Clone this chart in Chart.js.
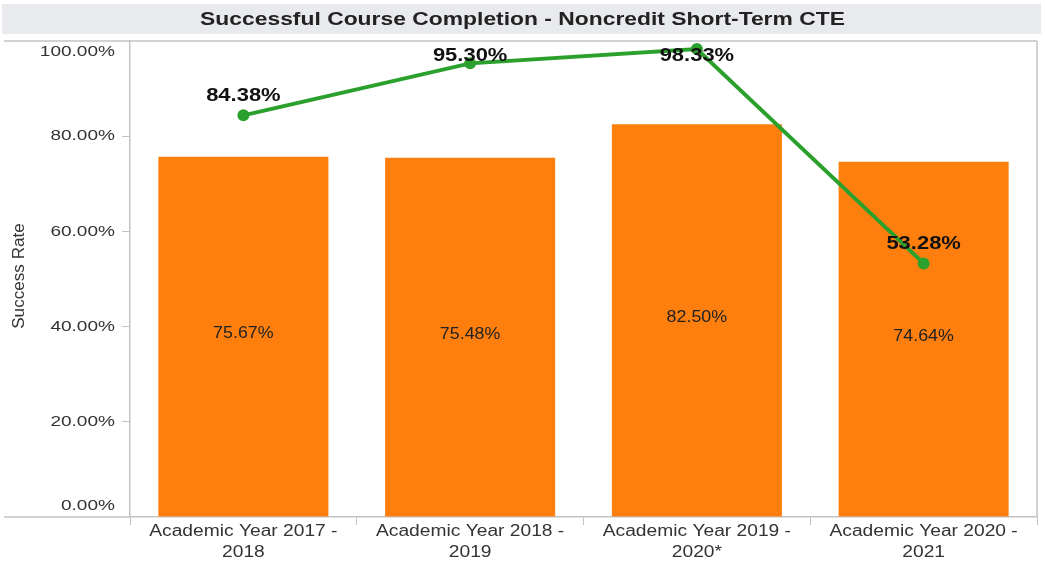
<!DOCTYPE html>
<html>
<head>
<meta charset="utf-8">
<script src="https://cdn.jsdelivr.net/npm/chart.js@4/dist/chart.umd.min.js"></script>
<style>
  html, body { margin: 0; padding: 0; background: #fff; }
  #wrap { width: 1045px; height: 566px; position: relative; }
</style>
</head>
<body>
<div id="wrap"><canvas id="chart"></canvas></div>
<script>
const chartTitle = "Successful Course Completion - Noncredit Short-Term CTE"
const axisTitle = "Success Rate"
const categories = [
  ["Academic Year 2017 -", "2018"],
  ["Academic Year 2018 -", "2019"],
  ["Academic Year 2019 -", "2020*"],
  ["Academic Year 2020 -", "2021"]
]
const barRates = [75.67, 75.48, 82.50, 74.64]
const lineRates = [84.38, 95.30, 98.33, 53.28]
const yTicks = [0, 20, 40, 60, 80, 100]

const FONT = '"Liberation Sans", Arial, sans-serif'
const AXIS_GRAY = "#c3c3c3"

// text drawn a little wider than Arial, like the original renderer
function drawText(ctx, str, x, y, font, color, align, sx) {
  ctx.save()
  ctx.font = font
  ctx.fillStyle = color
  ctx.textAlign = align
  ctx.textBaseline = "middle"
  ctx.translate(x, y)
  ctx.scale(sx, 1)
  ctx.fillText(str, 0, 0)
  ctx.restore()
}

const decorations = {
  id: "decorations",
  beforeDraw(chart) {
    const ctx = chart.ctx
    const { top, bottom, right } = chart.chartArea
    // title band
    ctx.save()
    ctx.fillStyle = "#e9eaed"
    ctx.fillRect(2, 4, chart.width - 6, 30)
    ctx.strokeStyle = AXIS_GRAY
    ctx.lineWidth = 1.5
    ctx.beginPath()
    ctx.moveTo(4, top); ctx.lineTo(right, top)
    ctx.moveTo(4, bottom); ctx.lineTo(chart.chartArea.left, bottom)
    ctx.moveTo(right, top); ctx.lineTo(right, bottom)
    ctx.stroke()
    ctx.restore()
    drawText(ctx, chartTitle, chart.width / 2, 20, "bold 18px " + FONT, "#222", "center", 1.27)
  },
  afterDraw(chart) {
    const ctx = chart.ctx
    const { top, bottom, left } = chart.chartArea
    const y = chart.scales.y
    const x = chart.scales.x

    yTicks.forEach(v => {
      let py = y.getPixelForValue(v)
      py = Math.min(Math.max(py, top + 11), bottom - 11)
      drawText(ctx, v.toFixed(2) + "%", left - 15, py, "15px " + FONT, "#333", "right", 1.27)
    })

    categories.forEach((lines, i) => {
      const px = x.getPixelForValue(i)
      lines.forEach((ln, j) => {
        drawText(ctx, ln, px, bottom + 15 + j * 21, "16px " + FONT, "#333", "center", 1.2)
      })
    })

    ctx.save()
    ctx.translate(20, 276)
    ctx.rotate(-Math.PI / 2)
    drawText(ctx, axisTitle, 0, 0, "16px " + FONT, "#333", "center", 1.07)
    ctx.restore()

    chart.getDatasetMeta(0).data.forEach((bar, i) => {
      const c = bar.getCenterPoint()
      drawText(ctx, barRates[i].toFixed(2) + "%", c.x, c.y - 3, "17px " + FONT, "#222", "center", 1.05)
    })

    chart.getDatasetMeta(1).data.forEach((pt, i) => {
      const ly = Math.max(pt.y - 19, top + 15)
      drawText(ctx, lineRates[i].toFixed(2) + "%", pt.x, ly, "bold 18px " + FONT, "#111", "center", 1.22)
    })
  }
}

new Chart(document.getElementById("chart"), {
  type: "bar",
  data: {
    labels: categories,
    datasets: [
      {
        type: "bar",
        data: barRates,
        backgroundColor: "#fe7f0e",
        categoryPercentage: 0.75,
        barPercentage: 1.0,
        order: 2
      },
      {
        type: "line",
        data: lineRates,
        borderColor: "#2ca02c",
        backgroundColor: "#2ca02c",
        borderWidth: 4,
        pointRadius: 4,
        pointHoverRadius: 4,
        tension: 0,
        clip: false,
        order: 1
      }
    ]
  },
  options: {
    responsive: true,
    maintainAspectRatio: false,
    animation: false,
    layout: { padding: { top: 41, left: 0, right: 2, bottom: 0 } },
    plugins: {
      legend: { display: false },
      tooltip: { enabled: false },
      title: { display: false }
    },
    scales: {
      x: {
        offset: true,
        ticks: { display: false },
        grid: { offset: true, drawOnChartArea: false, tickLength: 8, color: AXIS_GRAY },
        border: { color: AXIS_GRAY, width: 1.5 },
        afterFit: s => { s.height = 49 }
      },
      y: {
        min: 0,
        max: 100,
        ticks: { display: false, stepSize: 20 },
        grid: {
          drawOnChartArea: false,
          tickLength: 8,
          color: c => (c.tick && (c.tick.value === 0 || c.tick.value === 100)) ? "rgba(0,0,0,0)" : AXIS_GRAY
        },
        border: { color: AXIS_GRAY, width: 1.5 },
        afterFit: s => { s.width = 130 }
      }
    }
  },
  plugins: [decorations]
})
</script>
</body>
</html>
